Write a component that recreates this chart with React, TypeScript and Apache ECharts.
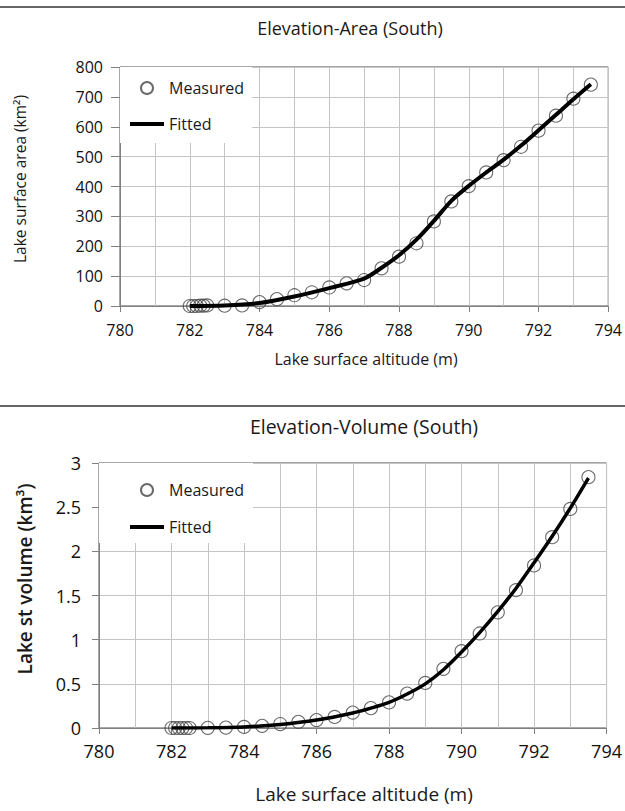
import React, { useEffect, useRef } from "react";
import * as echarts from "echarts";

const FONT = '"Open Sans", sans-serif';

const altitudes = [782, 782.1, 782.2, 782.3, 782.4, 782.5, 783, 783.5, 784, 784.5, 785, 785.5, 786, 786.5, 787, 787.5, 788, 788.5, 789, 789.5, 790, 790.5, 791, 791.5, 792, 792.5, 793, 793.5];
const areaMeasured = [0, 0, 0, 1, 1, 2, 1, 2, 13, 23, 36, 46, 62, 76, 87, 126, 165, 210, 283, 350, 401, 447, 488, 533, 587, 637, 694, 741];
const volumeMeasured = [0, 0, 0, 0, 0, 0, 0.002, 0.005, 0.012, 0.025, 0.045, 0.07, 0.09, 0.125, 0.175, 0.225, 0.29, 0.39, 0.51, 0.67, 0.87, 1.07, 1.31, 1.56, 1.84, 2.16, 2.48, 2.84];

const fitAltitudes = [782, 783, 784, 785, 786, 787, 787.5, 788, 788.5, 789, 789.5, 790, 790.5, 791, 791.5, 792, 792.5, 793, 793.5];
const areaFitted = [0, 2, 10, 32, 60, 92, 128, 170, 222, 285, 352, 402, 447, 490, 537, 588, 640, 692, 742];
const volumeFitted = [0, 0.002, 0.012, 0.04, 0.09, 0.17, 0.225, 0.29, 0.385, 0.5, 0.66, 0.86, 1.08, 1.32, 1.58, 1.87, 2.17, 2.49, 2.83];

const xTicks = { min: 780, max: 794, interval: 2 };
const areaTicks = { min: 0, max: 800, interval: 100 };
const volumeTicks = { min: 0, max: 3, interval: 0.5 };

const pairs = (xs: number[], ys: number[]) => xs.map((x, i) => [x, ys[i]]);

const GRID_C = "#c4c4c4";
const AXIS_C = "#808080";

function xAxis(gridIndex: number, fontSize: number, margin: number) {
  return {
    type: "value",
    gridIndex,
    ...xTicks,
    axisLine: { show: true, onZero: false, lineStyle: { color: AXIS_C, width: 1 } },
    axisTick: { show: true, length: 6, lineStyle: { color: AXIS_C } },
    axisLabel: { margin, fontSize, color: "#111", fontFamily: FONT },
    splitLine: { show: true, lineStyle: { color: GRID_C, width: 1 } },
    minorTick: { show: false, splitNumber: 2 },
    minorSplitLine: { show: true, lineStyle: { color: GRID_C, width: 1 } },
  };
}

function yAxis(gridIndex: number, ticks: any, fontSize: number, margin: number, tickLen: number) {
  return {
    type: "value",
    gridIndex,
    ...ticks,
    axisLine: { show: true, lineStyle: { color: AXIS_C, width: 1 } },
    axisTick: { show: true, length: tickLen, lineStyle: { color: AXIS_C } },
    axisLabel: { margin, fontSize, color: "#111", fontFamily: FONT },
    splitLine: { show: true, lineStyle: { color: GRID_C, width: 1 } },
  };
}

function label(text: string, x: number, y: number, size: number, rotate = false, weight = "normal") {
  return {
    type: "text",
    x,
    y,
    rotation: rotate ? Math.PI / 2 : 0,
    style: {
      text,
      x: 0,
      y: 0,
      fill: "#1a1a1a",
      font: `${weight} ${size}px ${FONT}`,
      textAlign: "center",
      textVerticalAlign: "middle",
    },
  };
}

const LINE_ICON = "path://M0,0H34V4H0Z";

export default function App() {
  const ref = useRef<HTMLDivElement>(null);
  useEffect(() => {
    if (!ref.current) return;
    const chart = echarts.init(ref.current, undefined, { renderer: "svg" });
    const scatterStyle = { color: "rgba(0,0,0,0)", borderColor: "#444", borderWidth: 1.1 };
    const legendData = [
      { name: "Measured", icon: "circle" },
      { name: "Fitted", icon: LINE_ICON, itemStyle: { color: "#000", borderWidth: 0 } },
    ];
    chart.setOption({
      animation: false,
      backgroundColor: "#fff",
      grid: [
        { left: 120, right: 12, top: 67, height: 239, show: true, borderColor: "#505050", borderWidth: 1 },
        { left: 99, right: 12, top: 463, height: 265, show: true, borderColor: "#505050", borderWidth: 1 },
      ],
      xAxis: [xAxis(0, 16, 16), xAxis(1, 18, 14)],
      yAxis: [yAxis(0, areaTicks, 16, 17, 9), yAxis(1, volumeTicks, 18, 18, 7)],
      legend: [
        {
          left: 120,
          top: 67,
          orient: "vertical",
          itemWidth: 34,
          itemHeight: 12,
          itemGap: 20,
          padding: [13, 8, 11, 10],
          backgroundColor: "#fff",
          textStyle: { fontSize: 16, color: "#1a1a1a", fontFamily: FONT },
          data: legendData,
          z: 5,
        },
        {
          left: 99,
          top: 463,
          orient: "vertical",
          itemWidth: 34,
          itemHeight: 12,
          itemGap: 21,
          padding: [19, 9, 8, 31],
          backgroundColor: "#fff",
          textStyle: { fontSize: 16, color: "#1a1a1a", fontFamily: FONT },
          data: legendData,
          z: 5,
        },
      ],
      graphic: [
        { type: "line", shape: { x1: 0, y1: 7, x2: 625, y2: 7 }, style: { stroke: "#333", lineWidth: 1.5 } },
        { type: "line", shape: { x1: 0, y1: 406, x2: 625, y2: 406 }, style: { stroke: "#333", lineWidth: 1.5 } },
        label("Elevation-Area (South)", 350, 28, 18),
        label("Lake surface altitude (m)", 366, 359, 16),
        label("Lake surface area (km²)", 20, 179, 15.5, true),
        label("Elevation-Volume (South)", 364, 426, 19.5),
        label("Lake surface altitude (m)", 364, 794, 19),
        label("Lake st volume (km³)", 25, 579, 19, true, "600"),
      ],
      series: [
        {
          name: "Measured",
          type: "scatter",
          xAxisIndex: 0,
          yAxisIndex: 0,
          symbol: "circle",
          symbolSize: 13,
          itemStyle: scatterStyle,
          data: pairs(altitudes, areaMeasured),
          z: 3,
        },
        {
          name: "Fitted",
          type: "line",
          xAxisIndex: 0,
          yAxisIndex: 0,
          smooth: 0.3,
          symbol: "none",
          lineStyle: { color: "#000", width: 4 },
          itemStyle: { color: "#000" },
          data: pairs(fitAltitudes, areaFitted),
          z: 4,
        },
        {
          name: "Measured",
          type: "scatter",
          xAxisIndex: 1,
          yAxisIndex: 1,
          symbol: "circle",
          symbolSize: 13,
          itemStyle: scatterStyle,
          data: pairs(altitudes, volumeMeasured),
          z: 3,
        },
        {
          name: "Fitted",
          type: "line",
          xAxisIndex: 1,
          yAxisIndex: 1,
          smooth: 0.3,
          symbol: "none",
          lineStyle: { color: "#000", width: 3.5 },
          itemStyle: { color: "#000" },
          data: pairs(fitAltitudes, volumeFitted),
          z: 4,
        },
      ],
    });
    return () => chart.dispose();
  }, []);
  return <div ref={ref} style={{ position: "absolute", left: 0, top: 0, width: 625, height: 811 }} />;
}
